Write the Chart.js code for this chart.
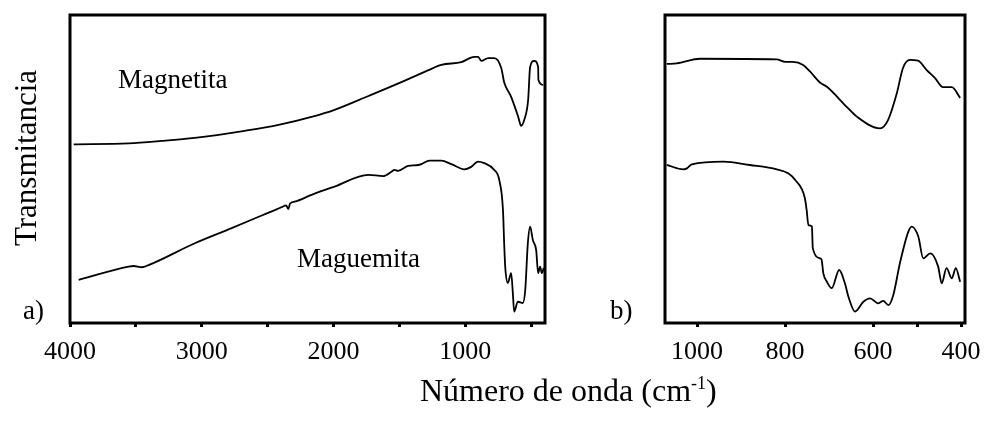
<!DOCTYPE html>
<html lang="es">
<head>
<meta charset="UTF-8" />
<title>FTIR Magnetita / Maguemita</title>
<script src="https://cdn.jsdelivr.net/npm/chart.js"></script>
<style>
  html, body { margin: 0; padding: 0; background: #fff; overflow: hidden; }
  .wrap { position: relative; width: 984px; height: 424px; font-family: "Liberation Serif", "Times New Roman", serif; color: #000; }
  canvas { position: absolute; top: 0; }
  #chartA { left: 0; }
  #chartB { left: 560px; }
  .lbl { position: absolute; white-space: nowrap; line-height: 1; }
  .ytitle { font-size: 31px; left: 25px; top: 158px; transform: translate(-50%, -50%) rotate(-90deg); }
  .xtitle { font-size: 32px; left: 420px; top: 374px; }
  .xtitle sup { font-size: 18px; vertical-align: 12px; line-height: 0; }
  .note { font-size: 27px; }
</style>
</head>
<body>
<div class="wrap">
  <canvas id="chartA" width="560" height="424"></canvas>
  <canvas id="chartB" width="424" height="424"></canvas>
  <div class="lbl ytitle">Transmitancia</div>
  <div class="lbl xtitle">Número de onda (cm<sup>-1</sup>)</div>
  <div class="lbl note" style="left:118px; top:66px;">Magnetita</div>
  <div class="lbl note" style="left:297px; top:245px;">Maguemita</div>
  <div class="lbl note" style="left:23px; top:297px;">a)</div>
  <div class="lbl note" style="left:610px; top:297px;">b)</div>
</div>

<script>
// a) full range 4000-400 cm-1
const magA_wn = [3972, 3555, 3303, 3053, 2674, 2417, 2167, 1992, 1735, 1485, 1280, 1182, 1030, 932, 902, 879, 826, 780, 727, 705, 652, 598, 576, 553, 523, 508, 477, 447, 445, 409];
const magA_t  = [58.0, 58.3, 59.1, 60.1, 62.4, 64.3, 66.9, 69.2, 73.7, 78.2, 82.1, 83.8, 84.7, 86.4, 86.4, 85.1, 86.0, 86.0, 82.8, 78.2, 73.4, 66.9, 64.0, 65.9, 72.4, 83.1, 85.1, 83.1, 78.9, 77.3];

const magueA_wn = [3934, 3555, 3517, 3455, 3404, 3053, 2773, 2545, 2432, 2394, 2360, 2343, 2330, 2295, 2167, 1992, 1735, 1623, 1561, 1538, 1510, 1434, 1358, 1333, 1273, 1182, 1106, 1008, 955, 904, 856, 780, 742, 714, 705, 697, 677, 652, 639, 629, 601, 563, 545, 525, 508, 487, 462, 447, 432, 419, 404];
const magueA_t  = [14.0, 18.3, 18.5, 18.1, 18.8, 25.9, 30.8, 34.9, 36.9, 37.6, 38.2, 37.0, 38.8, 39.4, 41.6, 44.3, 48.1, 47.7, 49.1, 49.7, 49.4, 51.0, 51.3, 51.6, 52.7, 52.7, 51.6, 49.9, 50.7, 52.4, 51.9, 49.7, 46.4, 36.7, 26.0, 18.3, 13.0, 16.2, 9.7, 3.7, 6.9, 6.5, 10.7, 26.0, 31.3, 26.9, 23.7, 16.2, 18.3, 16.2, 17.9];

// b) detail 1070-400 cm-1
const magB_wn = [1069, 1046, 993, 819, 800, 782, 759, 743, 720, 705, 660, 637, 584, 566, 546, 532, 516, 498, 478, 459, 441, 421, 402];
const magB_t  = [84.1, 84.3, 85.8, 85.6, 84.8, 84.8, 83.8, 81.6, 78.0, 76.7, 70.2, 67.0, 63.2, 65.9, 74.6, 82.8, 85.4, 85.2, 82.1, 79.5, 76.6, 76.6, 73.1];

const magueB_wn = [1069, 1031, 1023, 1012, 940, 880, 819, 793, 777, 755, 751, 747, 739, 737, 720, 717, 713, 705, 694, 677, 664, 656, 641, 622, 607, 588, 577, 565, 554, 539, 520, 512, 497, 486, 470, 452, 444, 433, 421, 412, 402];
const magueB_t  = [51.3, 49.9, 50.2, 51.5, 52.4, 51.3, 49.9, 48.6, 46.4, 40.5, 36.7, 31.8, 31.3, 24.3, 21.0, 20.5, 16.1, 13.4, 11.3, 17.2, 12.9, 8.5, 3.7, 6.9, 8.0, 6.4, 7.2, 5.8, 9.1, 19.4, 29.6, 31.3, 28.0, 21.0, 22.6, 18.3, 12.9, 17.8, 14.5, 17.8, 13.4];

const ticksA = [4000, 3500, 3000, 2500, 2000, 1500, 1000, 500];
const labelsA = [4000, 3000, 2000, 1000];
const ticksB = [1000, 800, 600, 500, 400];
const labelsB = [1000, 800, 600, 400];

function toPoints(xs, ys) {
  return xs.map((x, i) => ({ x: x, y: ys[i] }));
}

// thick black frame around the plot area
const frame = {
  id: 'frame',
  afterDraw(chart) {
    const { ctx, chartArea: a } = chart;
    ctx.save();
    ctx.strokeStyle = '#000';
    ctx.lineWidth = 3;
    ctx.strokeRect(a.left, a.top, a.right - a.left, a.bottom - a.top);
    ctx.restore();
  }
};

function lineSet(data) {
  return {
    data: data,
    borderColor: '#000',
    borderWidth: 1.8,
    pointRadius: 0,
    fill: false,
    cubicInterpolationMode: 'monotone'
  };
}

function makeChart(id, sets, xmin, xmax, tickVals, labelVals, pad) {
  return new Chart(document.getElementById(id), {
    type: 'line',
    data: { datasets: sets.map(lineSet) },
    options: {
      responsive: false,
      animation: false,
      layout: { padding: pad },
      plugins: { legend: { display: false }, tooltip: { enabled: false } },
      scales: {
        x: {
          type: 'linear',
          reverse: true,
          min: xmin,
          max: xmax,
          afterBuildTicks: (scale) => { scale.ticks = tickVals.map(v => ({ value: v })); },
          afterFit: (scale) => {
            scale.height = 101;
            // let the edge labels hang past the frame instead of shrinking it
            scale.paddingLeft = 0;
            scale.paddingRight = 0;
          },
          border: { display: false },
          grid: { drawOnChartArea: false, drawTicks: true, tickLength: 4, tickWidth: 3, tickColor: '#000' },
          ticks: {
            autoSkip: false,
            maxRotation: 0,
            padding: 10,
            color: '#000',
            font: { family: 'Liberation Serif', size: 26 },
            callback: (v) => labelVals.includes(v) ? String(v) : ''
          }
        },
        y: { display: false, min: 0, max: 100 }
      }
    },
    plugins: [frame]
  });
}

makeChart('chartA',
  [toPoints(magA_wn, magA_t), toPoints(magueA_wn, magueA_t)],
  395, 4000, ticksA, labelsA, { left: 70, right: 15, top: 15, bottom: 0 });

makeChart('chartB',
  [toPoints(magB_wn, magB_t), toPoints(magueB_wn, magueB_t)],
  391, 1073, ticksB, labelsB, { left: 105, right: 19, top: 15, bottom: 0 });
</script>
</body>
</html>
